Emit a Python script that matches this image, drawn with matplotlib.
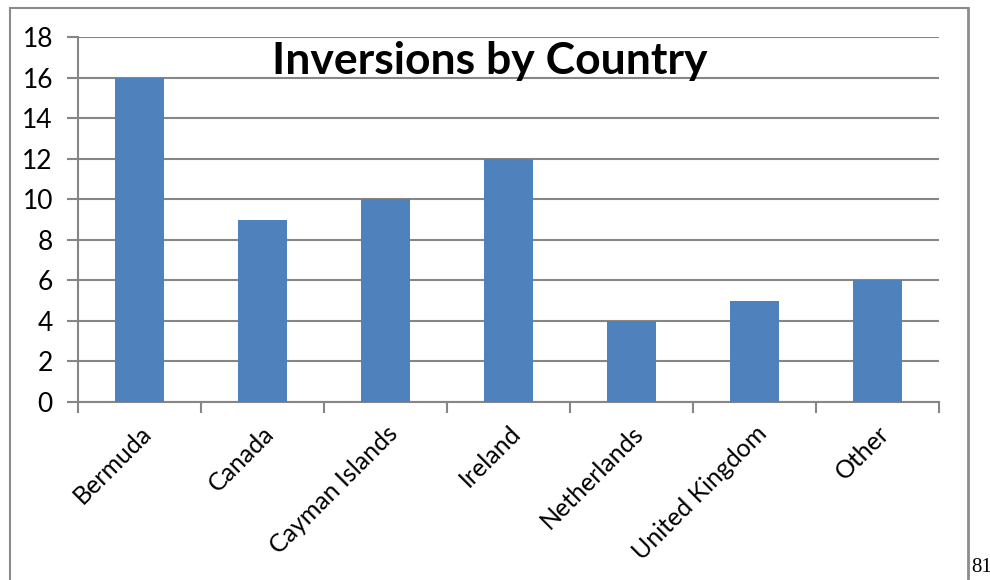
import numpy as np
import matplotlib
matplotlib.use('Agg')
import matplotlib.pyplot as plt
from matplotlib.lines import Line2D

# data
countries = ['Bermuda', 'Canada', 'Cayman Islands', 'Ireland',
             'Netherlands', 'United Kingdom', 'Other']
inversions = [16, 9, 10, 12, 4, 5, 6]
yticks = [0, 2, 4, 6, 8, 10, 12, 14, 16, 18]

plt.rcParams['font.family'] = ['Lato', 'DejaVu Sans']

W, H = 990, 580
fig = plt.figure(figsize=(W / 100, H / 100), dpi=100)
ax = fig.add_axes([78 / W, (H - 402) / H, (939 - 78) / W, (402 - 37) / H])

x = np.arange(len(countries))
ax.bar(x, inversions, width=0.4, color='#4F81BD', zorder=3)

ax.set_xlim(-0.5, len(countries) - 0.5)
ax.set_ylim(0, 18)
ax.set_yticks(yticks)
ax.set_yticklabels([str(v) for v in yticks], fontsize=19)
ax.yaxis.grid(True, color='#868686', linewidth=1.5, zorder=0)

# x tick marks sit at the category boundaries, labels at the centres
ax.set_xticks(np.arange(len(countries) + 1) - 0.5)
ax.set_xticklabels([])
ax.set_xticks(x, minor=True)
ax.set_xticklabels(countries, minor=True, rotation=45, ha='right',
                   rotation_mode='anchor', fontsize=18)
ax.tick_params(axis='x', which='minor', length=0, pad=14)
ax.tick_params(axis='x', which='major', length=8, width=1.5, color='#868686')
ax.tick_params(axis='y', length=8, width=1.5, color='#868686', pad=10)

for s in ['top', 'right']:
    ax.spines[s].set_visible(False)
for s in ['left', 'bottom']:
    ax.spines[s].set_color('#868686')
    ax.spines[s].set_linewidth(1.5)

ax.text(0.4785, 0.935, 'Inversions by Country', transform=ax.transAxes,
        ha='center', va='center', fontsize=32, fontweight='bold', zorder=5)

# outer frame of the chart object
def fx(px):
    return px / W

def fy(py):
    return (H - py) / H

frame = '#8c8c8c'
fig.add_artist(Line2D([fx(9.5), fx(9.5)], [fy(8), fy(H + 2)], color=frame, lw=1.5))
fig.add_artist(Line2D([fx(9.5), fx(968)], [fy(8), fy(8)], color=frame, lw=1.5))
fig.add_artist(Line2D([fx(968), fx(968)], [fy(8), fy(H + 2)], color=frame, lw=2))

fig.text(fx(971), fy(567), '81', fontsize=15, family='Liberation Serif',
         ha='left', va='center')

fig.savefig('out.png', dpi=100)
